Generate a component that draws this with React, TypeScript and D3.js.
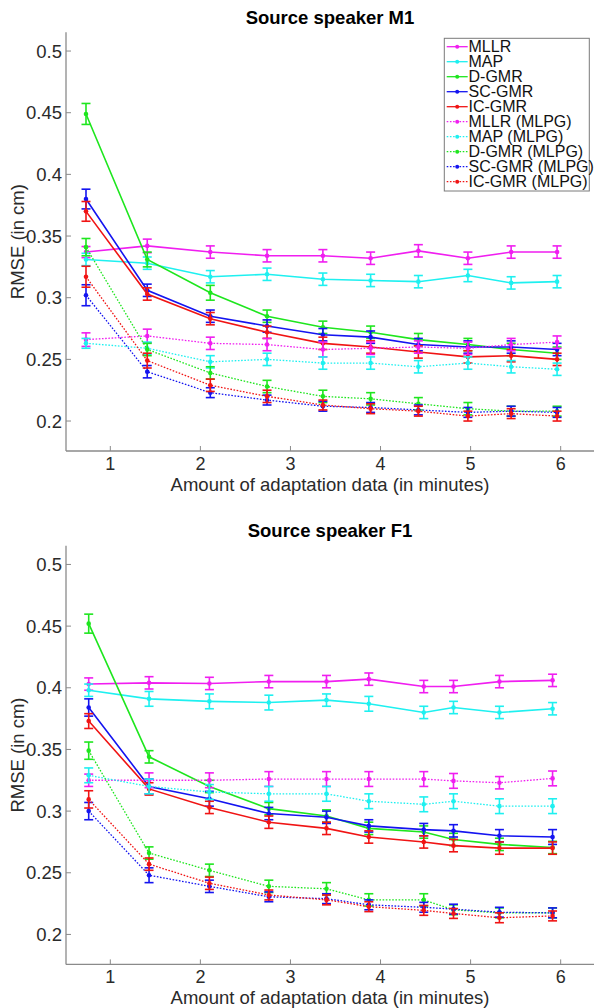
import React from "react";
import * as d3 from "d3";

// x positions (minutes) of the measurements
const xM1 = [0.73, 1.41, 2.11, 2.74, 3.36, 3.89, 4.42, 4.97, 5.45, 5.96];
const xF1 = [0.76, 1.43, 2.1, 2.76, 3.4, 3.87, 4.48, 4.81, 5.32, 5.91];

const seriesNames = [
  "MLLR",
  "MAP",
  "D-GMR",
  "SC-GMR",
  "IC-GMR",
  "MLLR (MLPG)",
  "MAP (MLPG)",
  "D-GMR (MLPG)",
  "SC-GMR (MLPG)",
  "IC-GMR (MLPG)",
];
const seriesColors = ["#f01ef0", "#1ef0f0", "#1ee61e", "#1414f0", "#f01414"];

// Source speaker M1
const m1Mllr = [0.337, 0.342, 0.337, 0.334, 0.334, 0.332, 0.338, 0.332, 0.337, 0.337];
const m1Map = [0.331, 0.328, 0.317, 0.319, 0.315, 0.314, 0.313, 0.318, 0.312, 0.313];
const m1Dgmr = [0.449, 0.331, 0.304, 0.285, 0.276, 0.272, 0.266, 0.262, 0.258, 0.255];
const m1Scgmr = [0.38, 0.306, 0.285, 0.277, 0.27, 0.268, 0.262, 0.26, 0.26, 0.258];
const m1Icgmr = [0.37, 0.303, 0.283, 0.272, 0.263, 0.26, 0.256, 0.252, 0.253, 0.25];
const m1MllrP = [0.266, 0.269, 0.263, 0.262, 0.258, 0.259, 0.26, 0.259, 0.262, 0.264];
const m1MapP = [0.263, 0.259, 0.248, 0.25, 0.247, 0.247, 0.244, 0.247, 0.244, 0.242];
const m1DgmrP = [0.341, 0.258, 0.239, 0.228, 0.22, 0.218, 0.214, 0.21, 0.208, 0.208];
const m1ScgmrP = [0.302, 0.24, 0.223, 0.217, 0.212, 0.211, 0.209, 0.207, 0.208, 0.207];
const m1IcgmrP = [0.317, 0.249, 0.229, 0.22, 0.213, 0.21, 0.208, 0.204, 0.206, 0.204];

const m1MllrE = [0.0045, 0.0055, 0.005, 0.005, 0.005, 0.005, 0.005, 0.005, 0.005, 0.005];
const m1MapE = [0.005, 0.005, 0.005, 0.005, 0.005, 0.005, 0.005, 0.005, 0.005, 0.005];
const m1DgmrE = [0.0085, 0.006, 0.006, 0.005, 0.005, 0.005, 0.005, 0.005, 0.005, 0.005];
const m1ScgmrE = [0.008, 0.005, 0.005, 0.005, 0.005, 0.005, 0.005, 0.005, 0.005, 0.005];
const m1IcgmrE = [0.008, 0.005, 0.005, 0.005, 0.005, 0.005, 0.005, 0.005, 0.005, 0.005];
const m1MllrPE = [0.0055, 0.0055, 0.005, 0.005, 0.006, 0.005, 0.005, 0.005, 0.005, 0.005];
const m1MapPE = [0.004, 0.005, 0.005, 0.005, 0.005, 0.005, 0.005, 0.005, 0.005, 0.005];
const m1DgmrPE = [0.007, 0.005, 0.005, 0.005, 0.005, 0.005, 0.005, 0.005, 0.004, 0.004];
const m1ScgmrPE = [0.0085, 0.005, 0.004, 0.004, 0.004, 0.004, 0.004, 0.004, 0.004, 0.004];
const m1IcgmrPE = [0.0085, 0.006, 0.005, 0.005, 0.004, 0.004, 0.004, 0.004, 0.004, 0.004];

// Source speaker F1
const f1Mllr = [0.403, 0.404, 0.4035, 0.405, 0.405, 0.407, 0.401, 0.401, 0.405, 0.406];
const f1Map = [0.398, 0.391, 0.389, 0.388, 0.39, 0.387, 0.38, 0.384, 0.38, 0.383];
const f1Dgmr = [0.452, 0.344, 0.32, 0.302, 0.296, 0.286, 0.283, 0.277, 0.273, 0.2705];
const f1Scgmr = [0.384, 0.32, 0.31, 0.298, 0.295, 0.288, 0.285, 0.284, 0.28, 0.279];
const f1Icgmr = [0.373, 0.318, 0.303, 0.291, 0.286, 0.279, 0.275, 0.272, 0.27, 0.27];
const f1MllrP = [0.325, 0.325, 0.325, 0.326, 0.326, 0.326, 0.326, 0.3245, 0.323, 0.3265];
const f1MapP = [0.329, 0.32, 0.3155, 0.314, 0.314, 0.308, 0.3055, 0.308, 0.304, 0.304];
const f1DgmrP = [0.349, 0.266, 0.252, 0.239, 0.237, 0.228, 0.228, 0.22, 0.2175, 0.2175];
const f1ScgmrP = [0.3, 0.248, 0.239, 0.2305, 0.229, 0.224, 0.222, 0.2205, 0.218, 0.2175];
const f1IcgmrP = [0.3095, 0.257, 0.2415, 0.232, 0.228, 0.2225, 0.2195, 0.217, 0.2135, 0.215];

const f1MllrE = [0.005, 0.005, 0.005, 0.005, 0.005, 0.005, 0.005, 0.005, 0.005, 0.005];
const f1MapE = [0.005, 0.006, 0.006, 0.006, 0.005, 0.006, 0.005, 0.005, 0.005, 0.005];
const f1DgmrE = [0.0077, 0.005, 0.005, 0.005, 0.005, 0.005, 0.005, 0.005, 0.005, 0.005];
const f1ScgmrE = [0.007, 0.006, 0.006, 0.005, 0.005, 0.005, 0.005, 0.005, 0.005, 0.006];
const f1IcgmrE = [0.006, 0.005, 0.005, 0.005, 0.005, 0.005, 0.005, 0.005, 0.005, 0.005];
const f1MllrPE = [0.005, 0.006, 0.006, 0.006, 0.006, 0.006, 0.006, 0.006, 0.005, 0.006];
const f1MapPE = [0.006, 0.006, 0.006, 0.006, 0.006, 0.006, 0.006, 0.006, 0.006, 0.006];
const f1DgmrPE = [0.007, 0.005, 0.005, 0.005, 0.005, 0.005, 0.005, 0.004, 0.004, 0.004];
const f1ScgmrPE = [0.007, 0.006, 0.005, 0.004, 0.004, 0.004, 0.004, 0.004, 0.004, 0.004];
const f1IcgmrPE = [0.007, 0.005, 0.005, 0.004, 0.004, 0.004, 0.004, 0.004, 0.004, 0.004];

const yTicks = [0.2, 0.25, 0.3, 0.35, 0.4, 0.45, 0.5];
const xTicks = [1, 2, 3, 4, 5, 6];

const m1Values = [m1Mllr, m1Map, m1Dgmr, m1Scgmr, m1Icgmr, m1MllrP, m1MapP, m1DgmrP, m1ScgmrP, m1IcgmrP];
const m1Errors = [m1MllrE, m1MapE, m1DgmrE, m1ScgmrE, m1IcgmrE, m1MllrPE, m1MapPE, m1DgmrPE, m1ScgmrPE, m1IcgmrPE];
const f1Values = [f1Mllr, f1Map, f1Dgmr, f1Scgmr, f1Icgmr, f1MllrP, f1MapP, f1DgmrP, f1ScgmrP, f1IcgmrP];
const f1Errors = [f1MllrE, f1MapE, f1DgmrE, f1ScgmrE, f1IcgmrE, f1MllrPE, f1MapPE, f1DgmrPE, f1ScgmrPE, f1IcgmrPE];

const font = "'Liberation Sans', Arial, Helvetica, sans-serif";
const left = 66;
const right = 594;
const plotHeight = 418.7;

function Panel({ top, title, xs, values, errors, legend }) {
  const xScale = d3.scaleLinear().domain([0.508, 6.37]).range([left, right]);
  const yScale = d3.scaleLinear().domain([0.1757, 0.5152]).range([top + plotHeight, top]);
  const line = d3
    .line<number>()
    .x((d, i) => xScale(xs[i]))
    .y((d) => yScale(d));
  const bottom = top + plotHeight;

  return (
    <g>
      <text
        x={330}
        y={top - 8.5}
        textAnchor="middle"
        style={{ fontFamily: font, fontSize: 18.5, fontWeight: "bold", fill: "#000" }}
      >
        {title}
      </text>

      {/* axes */}
      <line x1={left} y1={top} x2={left} y2={bottom} stroke="#8a8a8a" strokeWidth={1.3} />
      <line x1={left} y1={bottom} x2={right} y2={bottom} stroke="#8a8a8a" strokeWidth={1.3} />
      {yTicks.map((t) => (
        <g key={"y" + t}>
          <line x1={left} x2={left + 5} y1={yScale(t)} y2={yScale(t)} stroke="#8a8a8a" />
          <text
            x={left - 4}
            y={yScale(t) + 6.5}
            textAnchor="end"
            style={{ fontFamily: font, fontSize: 18.5, fill: "#2a2a2a" }}
          >
            {String(+t.toFixed(2))}
          </text>
        </g>
      ))}
      {xTicks.map((t) => (
        <g key={"x" + t}>
          <line x1={xScale(t)} x2={xScale(t)} y1={bottom} y2={bottom - 5} stroke="#8a8a8a" />
          <text
            x={xScale(t)}
            y={bottom + 18.5}
            textAnchor="middle"
            style={{ fontFamily: font, fontSize: 18, fill: "#2a2a2a" }}
          >
            {t}
          </text>
        </g>
      ))}
      <text
        x={330}
        y={bottom + 39.5}
        textAnchor="middle"
        style={{ fontFamily: font, fontSize: 18.5, fill: "#2a2a2a" }}
      >
        Amount of adaptation data (in minutes)
      </text>
      <text
        transform={`translate(${24}, ${top + plotHeight / 2}) rotate(-90)`}
        textAnchor="middle"
        style={{ fontFamily: font, fontSize: 18.5, fill: "#2a2a2a" }}
      >
        RMSE (in cm)
      </text>

      {/* series */}
      {values.map((vals, si) => {
        const color = seriesColors[si % 5];
        const dotted = si >= 5;
        return (
          <g key={si}>
            <path
              d={line(vals)}
              fill="none"
              stroke={color}
              strokeWidth={dotted ? 1.3 : 1.6}
              strokeDasharray={dotted ? "1.6 1.6" : null}
            />
            {vals.map((v, i) => {
              const cx = xScale(xs[i]);
              const y1 = yScale(v + errors[si][i]);
              const y2 = yScale(v - errors[si][i]);
              return (
                <g key={i} stroke={color} strokeWidth={1.6}>
                  <line x1={cx} x2={cx} y1={y1} y2={y2} />
                  <line x1={cx - 4.5} x2={cx + 4.5} y1={y1} y2={y1} />
                  <line x1={cx - 4.5} x2={cx + 4.5} y1={y2} y2={y2} />
                  <circle cx={cx} cy={yScale(v)} r={2.3} fill={color} stroke="none" />
                </g>
              );
            })}
          </g>
        );
      })}

      {legend && (
        <g>
          <rect x={444.3} y={38.3} width={145} height={152.7} fill="#fff" stroke="#7a7a7a" strokeWidth={1} />
          {seriesNames.map((name, i) => {
            const cy = 46.7 + i * 15;
            const color = seriesColors[i % 5];
            return (
              <g key={name}>
                <line
                  x1={446.7}
                  x2={467.7}
                  y1={cy}
                  y2={cy}
                  stroke={color}
                  strokeWidth={1.3}
                  strokeDasharray={i >= 5 ? "1.6 1.6" : null}
                />
                <circle cx={457.2} cy={cy} r={2} fill={color} />
                <text
                  x={468.5}
                  y={cy + 5.7}
                  style={{ fontFamily: font, fontSize: 16, fill: "#111" }}
                >
                  {name}
                </text>
              </g>
            );
          })}
        </g>
      )}
    </g>
  );
}

export default function App() {
  return (
    <svg
      width={594}
      height={1008}
      style={{ position: "absolute", left: 0, top: 0, background: "#fff" }}
    >
      <rect width={594} height={1008} fill="#fff" />
      <Panel top={32.3} title="Source speaker M1" xs={xM1} values={m1Values} errors={m1Errors} legend />
      <Panel top={545.7} title="Source speaker F1" xs={xF1} values={f1Values} errors={f1Errors} legend={false} />
    </svg>
  );
}
